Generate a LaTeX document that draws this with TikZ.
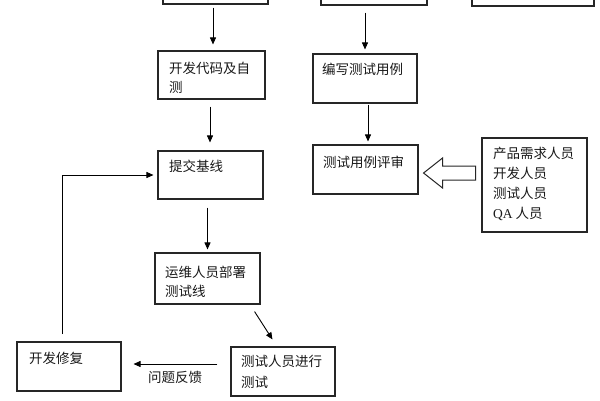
\documentclass[tikz,border=0pt]{standalone}
\usepackage{fontspec}
\setmainfont{Liberation Serif}
\newfontfamily\cjk{Noto Sans CJK SC}
\usetikzlibrary{arrows.meta,calc}
\begin{document}
\begin{tikzpicture}[x=1pt,y=-1pt,
  box/.style={draw=black!85,line width=1.1pt,inner sep=0pt},
  txt/.style={anchor=base west,inner sep=0pt,text=black!90,font=\cjk\fontsize{13.5}{16}\selectfont},
  arr/.style={draw=black,line width=0.9pt,-{Triangle[length=7pt,width=6pt]}}]
\useasboundingbox (0,0) rectangle (600,400);
\clip (0,0) rectangle (600,400);
\fill[white] (0,0) rectangle (600,400);
% boxes
\node[box,minimum width=105pt,minimum height=24pt] (A) at (215.5,-8) {};
\node[box,minimum width=106pt,minimum height=25pt] (B) at (374,-7.5) {};
\node[box,minimum width=122pt,minimum height=26pt] (C) at (533,-7) {};
\node[box,minimum width=107pt,minimum height=48pt] (D) at (211.5,75) {};
\node[box,minimum width=104pt,minimum height=49pt] (E) at (365,78.5) {};
\node[box,minimum width=105pt,minimum height=48pt] (F) at (210.5,175) {};
\node[box,minimum width=105pt,minimum height=49pt] (G) at (365.5,169.5) {};
\node[box,minimum width=105pt,minimum height=94pt] (H) at (534.5,185) {};
\node[box,minimum width=105pt,minimum height=51pt] (I) at (207.5,278.5) {};
\node[box,minimum width=104pt,minimum height=49pt] (J) at (283,371.5) {};
\node[box,minimum width=104pt,minimum height=49pt] (K) at (69,366.5) {};
% texts
\node[txt] (d1) at (169,73) {开发代码及自};
\node[txt] (d2) at (169,92) {测};
\node[txt] (e1) at (322,74) {编写测试用例};
\node[txt] (f1) at (169,171) {提交基线};
\node[txt] (g1) at (323,167) {测试用例评审};
\node[txt] (h1) at (493,158) {产品需求人员};
\node[txt] (h2) at (493,178) {开发人员};
\node[txt] (h3) at (493,198) {测试人员};
\node[txt] (h4) at (493,218) {{\rmfamily QA} 人员};
\node[txt] (i1) at (165,277) {运维人员部署};
\node[txt] (i2) at (165,296) {测试线};
\node[txt] (j1) at (241,366) {测试人员进行};
\node[txt] (j2) at (241,387) {测试};
\node[txt] (k1) at (29,363) {开发修复};
\node[txt] (lab) at (148,382) {问题反馈};
% connectors
\draw[arr,shorten <=3pt,shorten >=6pt] ([xshift=-2.5pt]A.south) -- ([xshift=-2.5pt]A.south |- D.north);
\draw[arr,shorten <=7pt,shorten >=4pt] (E.north |- B.south) -- (E.north);
\draw[arr,shorten <=7pt,shorten >=8pt] ([xshift=-1.5pt]D.south) -- ([xshift=-1.5pt]D.south |- F.north);
\draw[arr,shorten <=1pt,shorten >=3pt] ([xshift=3pt]E.south) -- ([xshift=3pt]E.south |- G.north);
\draw[arr,shorten <=8pt,shorten >=3pt] (I.north |- F.south) -- (I.north);
\draw[arr] ($(I.south east)+(-6,7)$) -- ($(J.north west)+(42,-7)$);
\draw[arr,shorten <=13pt,shorten >=12pt] ([yshift=7.5pt]J.west) -- ([yshift=2.5pt]K.east);
\coordinate (fb) at (62,334);
\draw[arr,shorten >=4pt] (fb) |- (F.west);
% hollow arrow from H to G
\coordinate (tip) at ($(G.east)+(5,3.5)$);
\draw[line width=1pt,draw=black!85] (tip) -- ++(19,-15) -- ++(0,8) -- ++(33,0) -- ++(0,14) -- ++(-33,0) -- ++(0,8) -- cycle;
\end{tikzpicture}
\end{document}
